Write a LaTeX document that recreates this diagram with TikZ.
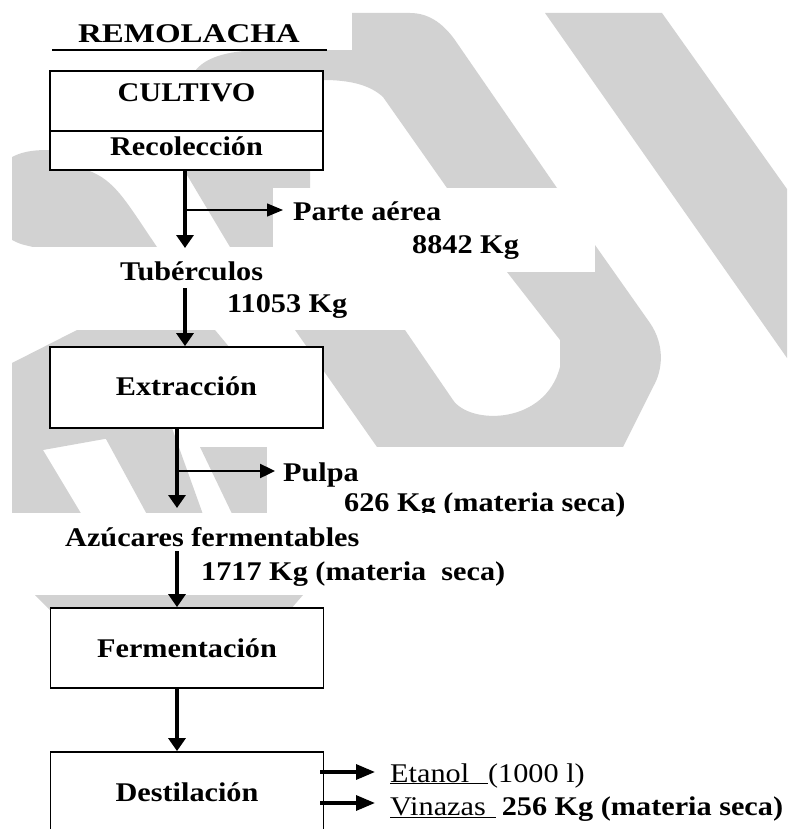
\documentclass[tikz,border=0pt]{standalone}
\usepackage{graphicx}
\usepackage{fontspec}
\setmainfont{Liberation Serif}[FakeStretch=1.12]
\usetikzlibrary{arrows.meta}
\definecolor{wm}{RGB}{210,210,210}
\begin{document}
\begin{tikzpicture}[x=1pt,y=-1pt,
  txt/.style={inner sep=0pt, anchor=base west, font=\fontsize{27}{30}\selectfont\bfseries},
  proc/.style={draw, line width=1.8pt, fill=white, inner sep=0pt, minimum width=273pt,
    font=\fontsize{27}{30}\selectfont\bfseries},
  flow/.style={line width=3.2pt, -{Triangle[length=13pt,width=17pt]}},
  flowh/.style={line width=3.2pt, -{Triangle[length=19pt,width=15pt]}},
  sidethin/.style={line width=1.3pt, -{Triangle[length=16pt,width=13pt]}},
  sidethick/.style={line width=2.4pt, -{Triangle[length=15pt,width=14pt]}},
  bg/.style={fill=white}]
\useasboundingbox (0,0) rectangle (787,829);
\clip (0,0) rectangle (787,829);
% ---- watermark ----
\fill[wm] (545,13) -- (662,13) -- (787,189) -- (787,358) -- cycle;
\fill[wm] (195,71) .. controls (205,58) and (225,51) .. (260,50) -- (352,50) -- (352,13) -- (410,13)
  .. controls (430,13) and (445,25) .. (457,43) -- (557,188) -- (447,188) -- (383,97)
  .. controls (370,85) and (350,80) .. (323,80) -- (323,71) -- cycle;
\fill[wm] (184,170) -- (310,170) -- (310,188) -- (273,188) -- (273,247) -- (230,247) -- cycle;
\fill[wm] (12,157) .. controls (25,150) and (40,150) .. (50,150) -- (50,170) -- (87,170)
  .. controls (115,180) and (125,200) .. (157,247) -- (33,247) .. controls (20,244) .. (12,240) -- cycle;
\fill[wm] (595,245) -- (650,323) .. controls (665,345) and (663,370) .. (653,387) -- (623,447)
  -- (377,447) -- (295,330) -- (405,330) -- (453,400) .. controls (470,425) and (545,425) .. (560,367)
  -- (560,340) -- (507,272) -- (595,272) -- cycle;
\fill[wm] (12,363) -- (77,330) -- (215,330) -- (240,360) -- (60,360) -- (60,428) -- (166,428)
  -- (43,450) -- (85,520) -- (12,520) -- cycle;
\fill[wm] (100,428) -- (172,428) -- (205,520) -- (150,520) -- cycle;
\fill[wm] (200,447) -- (267,447) -- (267,520) -- (235,520) -- cycle;
\fill[wm] (35,595) -- (303,595) -- (290,610) -- (50,610) -- cycle;
% ---- white text-box backgrounds ----
\fill[bg] (0,0) rectangle (352,50);
\fill[bg] (273,188) rectangle (557,247);
\fill[bg] (400,245) rectangle (595,272);
\fill[bg] (0,247) rectangle (470,330);
\fill[bg] (267,447) rectangle (640,513);
% ---- labels ----
\node[txt] (remo) at (78,43) {\scalebox{1.09}[1]{REMOLACHA}};
\draw[line width=1.4pt] ([xshift=-26pt,yshift=-7pt]remo.base west) -- ([xshift=249pt,yshift=-7pt]remo.base west);
\node[txt] (parte) at (293,220) {Parte aérea};
\node[txt] (p8842) at (412,253) {8842 Kg};
\node[txt] (tuber) at (120,280) {Tubérculos};
\node[txt] (k11053) at (227,312) {11053 Kg};
\node[txt] (pulpa) at (283,481) {Pulpa};
\node[txt] (k626) at (344,511) {626 Kg (materia seca)};
\fill[bg] (0,513) rectangle (600,595);
\node[txt] (azuc) at (65,546) {Azúcares fermentables};
\node[txt] (k1717) at (201,580) {1717 Kg (materia\ \ seca)};
\node[txt] (etanol) at (390,782) {\mdseries\underline{Etanol\hspace{19pt}}(1000 l)};
\node[txt] (vinazas) at (390,815) {\mdseries\underline{Vinazas\hspace{10pt}}\hspace{6pt}\bfseries 256 Kg (materia seca)};
% ---- process boxes ----
\node[proc, minimum height=60pt, text height=18pt, text depth=16pt] (cult) at (186.5,101) {CULTIVO};
\node[proc, minimum height=39pt, text height=19pt, text depth=8pt] (recol) at (186.5,150.5) {Recolección};
\node[proc, minimum height=81pt, text height=20pt, text depth=5pt] (extr) at (186.5,387.5) {Extracción};
\node[proc, minimum height=80pt, text height=22pt, text depth=4pt] (ferm) at (187,648) {Fermentación};
\node[proc, minimum height=88pt, text height=20pt, text depth=10pt] (dest) at (187,796) {Destilación};
% ---- connectors ----
\coordinate (t1) at (185,248);
\coordinate (b1) at (185,210);
\coordinate (t3) at (177,508);
\coordinate (b3) at (177,471);
\coordinate (e1) at (375,772);
\coordinate (v1) at (375,803);
\draw[flow] (recol.south -| t1) -- (t1);
\draw[sidethin] (b1) -- ([xshift=-10pt]parte.west |- b1);
\draw[flow] ([yshift=-8pt]tuber.base -| t1) -- (extr.north -| t1);
\draw[flow] (extr.south -| t3) -- (t3);
\draw[sidethick] (b3) -- ([xshift=-8pt]pulpa.west |- b3);
\draw[flow] ([yshift=-5pt]azuc.base -| t3) -- (ferm.north -| t3);
\draw[flow] (ferm.south -| t3) -- (dest.north -| t3);
\draw[flowh] ([xshift=-4pt]dest.east |- e1) -- ([xshift=-15pt]etanol.west |- e1);
\draw[flowh] ([xshift=-4pt]dest.east |- v1) -- ([xshift=-15pt]vinazas.west |- v1);
\end{tikzpicture}
\end{document}
